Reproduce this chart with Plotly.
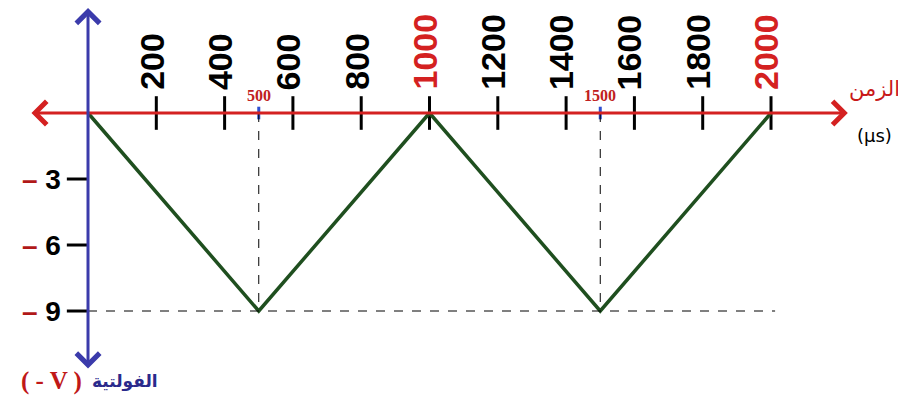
import plotly.graph_objects as go

# sawtooth voltage vs time
time_us = [0, 500, 1000, 1500, 2000]
volt = [0, -9, 0, -9, 0]

x_ticks = [200, 400, 600, 800, 1000, 1200, 1400, 1600, 1800, 2000]
x_tick_red = [1000, 2000]
y_ticks = [-3, -6, -9]
mark_times = [500, 1500]
v_min = -9

RED = "#d42121"
BLUE = "#3b3bab"
GREEN = "#1f4f1f"

fig = go.Figure()

# dashed guides
for t in mark_times:
    fig.add_shape(type="line", x0=t, x1=t, y0=0, y1=v_min,
                  line=dict(color="black", width=1, dash="dash"))
fig.add_shape(type="line", x0=0, x1=2012, y0=v_min, y1=v_min,
              line=dict(color="black", width=1, dash="dash"))

# y ticks (left of the axis)
for v in y_ticks:
    fig.add_shape(type="line", x0=-62, x1=0, y0=v, y1=v,
                  line=dict(color="black", width=3))

# axes with arrows
fig.add_annotation(x=2225, y=0, ax=-170, ay=0, xref="x", yref="y", axref="x", ayref="y",
                   text="", showarrow=True, arrowside="end+start", arrowhead=4,
                   arrowsize=1.5, arrowwidth=3, arrowcolor=RED, standoff=0, startstandoff=0)
fig.add_annotation(x=0, y=4.77, ax=0, ay=-11.68, xref="x", yref="y", axref="x", ayref="y",
                   text="", showarrow=True, arrowside="end+start", arrowhead=4,
                   arrowsize=1.5, arrowwidth=3, arrowcolor=BLUE, standoff=0, startstandoff=0)

# x ticks crossing the axis
fig.add_trace(go.Scatter(x=x_ticks, y=[0] * len(x_ticks), mode="markers",
                         marker=dict(symbol="line-ns", size=24,
                                     line=dict(color="black", width=3)),
                         hoverinfo="skip"))
fig.add_trace(go.Scatter(x=mark_times, y=[0] * len(mark_times), mode="markers",
                         marker=dict(symbol="line-ns", size=9,
                                     line=dict(color="#2f4fd0", width=3)),
                         hoverinfo="skip"))

# signal
fig.add_trace(go.Scatter(x=time_us, y=volt, mode="lines",
                         line=dict(color=GREEN, width=3.5), hoverinfo="skip"))

# rotated x tick labels
for t in x_ticks:
    fig.add_annotation(x=t, y=0, text="<b>%d</b>" % t, showarrow=False, textangle=-90,
                       xanchor="center", yanchor="bottom", xshift=-5, yshift=21,
                       font=dict(family="Liberation Sans", size=34,
                                 color=RED if t in x_tick_red else "black"))

# small labels for the marked times
for t in mark_times:
    fig.add_annotation(x=t, y=0, text="<b>%d</b>" % t, showarrow=False,
                       xanchor="center", yanchor="bottom", yshift=7,
                       font=dict(family="Liberation Serif", size=16, color="#c02020"))

# y tick labels
for v in y_ticks:
    fig.add_annotation(x=-73, y=v, text="<b><span style='color:#b01818'>–</span> %d</b>" % abs(v),
                       showarrow=False, xanchor="right", yanchor="middle",
                       font=dict(family="Liberation Sans", size=28, color="black"))

# axis titles
fig.add_annotation(x=2302, y=1.1, text="الزمن", showarrow=False, xanchor="center",
                   font=dict(family="DejaVu Sans", size=21, color="#c81818"))
fig.add_annotation(x=2304, y=-1.0, text="(µs)", showarrow=False, xanchor="center",
                   font=dict(family="DejaVu Sans", size=18, color="black"))
fig.add_annotation(x=108, y=-12.2, text="<b>الفولتية</b>", showarrow=False,
                   font=dict(family="DejaVu Sans", size=17, color="#2a2a8c"))
fig.add_annotation(x=-108, y=-12.2, text="<b>( - V )</b>", showarrow=False,
                   font=dict(family="Liberation Serif", size=25, color="#c01818"))

# the page adds an 8px body margin; ranges are set so positions line up
fig.update_layout(
    width=898, height=405,
    margin=dict(l=0, r=0, t=0, b=0),
    paper_bgcolor="white", plot_bgcolor="white",
    showlegend=False,
    xaxis=dict(range=[-234.3, 2395.3], visible=False, fixedrange=True),
    yaxis=dict(range=[-13.636, 4.773], visible=False, fixedrange=True),
)

fig.write_html("out.html")
